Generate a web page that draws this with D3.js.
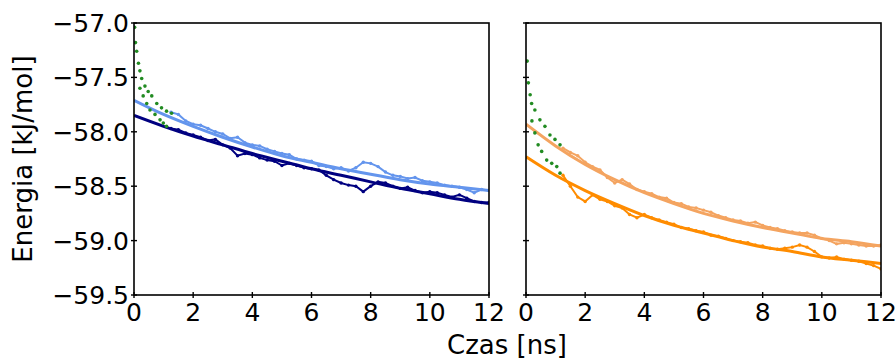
<!DOCTYPE html>
<html><head><meta charset="utf-8">
<script src="https://cdn.jsdelivr.net/npm/d3@7/dist/d3.min.js"></script>
<style>body{margin:0;background:#fff}svg{display:block}text{font-family:"DejaVu Sans",sans-serif;fill:#000}</style>
</head><body><svg id="c" width="896" height="361"></svg>
<script>
const yTicks = [-57.0,-57.5,-58.0,-58.5,-59.0,-59.5];
const xTicks = [0,2,4,6,8,10,12];
const fitT = [0,1,2,3,4,5,6,7,8,9,10,11,12];
const fitLightBlue = [-57.71,-57.84,-57.95,-58.05,-58.14,-58.22,-58.28,-58.34,-58.39,-58.44,-58.48,-58.51,-58.54];
const fitNavy = [-57.85,-57.95,-58.04,-58.12,-58.20,-58.27,-58.34,-58.40,-58.46,-58.52,-58.57,-58.62,-58.66];
const fitSandy = [-57.93,-58.13,-58.30,-58.44,-58.56,-58.66,-58.75,-58.82,-58.88,-58.93,-58.98,-59.01,-59.05];
const fitOrange = [-58.23,-58.40,-58.54,-58.66,-58.77,-58.86,-58.93,-59.00,-59.06,-59.10,-59.15,-59.18,-59.21];
const dataT = [1.25,1.5,1.75,2.0,2.25,2.5,2.75,3.0,3.25,3.5,3.75,4.0,4.25,4.5,4.75,5.0,5.25,5.5,5.75,6.0,6.25,6.5,6.75,7.0,7.25,7.5,7.75,8.0,8.25,8.5,8.75,9.0,9.25,9.5,9.75,10.0,10.25,10.5,10.75,11.0,11.25,11.5,11.75,12.0];
const dataLightBlue = [-57.82,-57.84,-57.90,-57.93,-57.94,-57.97,-58.00,-58.02,-58.06,-58.05,-58.10,-58.12,-58.13,-58.16,-58.18,-58.20,-58.21,-58.25,-58.26,-58.27,-58.31,-58.32,-58.34,-58.33,-58.36,-58.33,-58.28,-58.29,-58.32,-58.37,-58.40,-58.41,-58.43,-58.42,-58.45,-58.46,-58.47,-58.49,-58.50,-58.51,-58.53,-58.56,-58.53,-58.54];
const dataNavy = [-57.97,-57.98,-58.01,-58.03,-58.05,-58.08,-58.07,-58.12,-58.15,-58.22,-58.20,-58.21,-58.24,-58.26,-58.27,-58.31,-58.29,-58.31,-58.33,-58.34,-58.35,-58.40,-58.44,-58.47,-58.49,-58.50,-58.55,-58.50,-58.46,-58.47,-58.50,-58.52,-58.51,-58.54,-58.56,-58.55,-58.56,-58.58,-58.60,-58.58,-58.61,-58.64,-58.65,-58.65];
const dataSandy = [-58.15,-58.19,-58.22,-58.28,-58.32,-58.35,-58.42,-58.47,-58.44,-58.48,-58.53,-58.55,-58.57,-58.60,-58.61,-58.65,-58.66,-58.69,-58.70,-58.72,-58.74,-58.77,-58.79,-58.81,-58.82,-58.84,-58.83,-58.86,-58.88,-58.89,-58.91,-58.92,-58.93,-58.93,-58.95,-58.98,-59.00,-59.03,-59.02,-59.03,-59.04,-59.05,-59.05,-59.04];
const dataOrange = [-58.40,-58.50,-58.60,-58.64,-58.58,-58.62,-58.64,-58.68,-58.70,-58.76,-58.79,-58.76,-58.79,-58.81,-58.83,-58.85,-58.88,-58.89,-58.91,-58.92,-58.95,-58.96,-58.98,-59.00,-59.01,-59.02,-59.04,-59.05,-59.07,-59.08,-59.07,-59.06,-59.04,-59.06,-59.10,-59.15,-59.16,-59.15,-59.17,-59.18,-59.19,-59.21,-59.23,-59.26];
const greenLeftT = [0.02,0.05,0.09,0.15,0.2,0.26,0.37,0.48,0.6,0.77,0.93,1.1,1.27,0.2,0.31,0.43,0.54,0.71,0.88,0.99,1.1];
const greenLeftV = [-57.04,-57.18,-57.26,-57.37,-57.44,-57.51,-57.58,-57.63,-57.67,-57.74,-57.78,-57.81,-57.83,-57.60,-57.67,-57.74,-57.80,-57.84,-57.89,-57.92,-57.95];
const greenRightT = [0.04,0.08,0.19,0.3,0.47,0.64,0.81,0.98,1.15,0.14,0.2,0.3,0.41,0.53,0.7,0.87,1.04,1.15];
const greenRightV = [-57.35,-57.55,-57.74,-57.80,-57.89,-57.95,-58.03,-58.07,-58.12,-57.66,-57.90,-58.01,-58.12,-58.18,-58.26,-58.29,-58.32,-58.38];

const svg = d3.select('#c');
const plotTop = 23, plotBottom = 295;
const y = d3.scaleLinear().domain([-59.5,-57.0]).range([plotBottom, plotTop]);
const panels = [
  {x0:134, x1:489, labels:true, series:[
    {d:dataLightBlue, f:fitLightBlue, c:'#6495ED'},
    {d:dataNavy, f:fitNavy, c:'#000080'}], gT:greenLeftT, gV:greenLeftV},
  {x0:526, x1:881, labels:false, series:[
    {d:dataSandy, f:fitSandy, c:'#F4A460'},
    {d:dataOrange, f:fitOrange, c:'#FF8C00'}], gT:greenRightT, gV:greenRightV}
];
const fs = 25, fsLab = 26;
panels.forEach(p => {
  const x = d3.scaleLinear().domain([0,12]).range([p.x0, p.x1]);
  const g = svg.append('g');
  g.append('defs').append('clipPath').attr('id','cp'+p.x0).append('rect')
    .attr('x',p.x0).attr('y',plotTop).attr('width',p.x1-p.x0).attr('height',plotBottom-plotTop);
  const pg = g.append('g').attr('clip-path','url(#cp'+p.x0+')');
  p.series.forEach(s => {
    const pts = dataT.map((t,i)=>[t,s.d[i]]);
    pg.append('path').attr('d', d3.line().x(d=>x(d[0])).y(d=>y(d[1]))(pts))
      .attr('fill','none').attr('stroke',s.c).attr('stroke-width',2);
    pg.selectAll(null).data(pts).enter().append('circle')
      .attr('cx',d=>x(d[0])).attr('cy',d=>y(d[1])).attr('r',1.7).attr('fill',s.c);
    const fp = fitT.map((t,i)=>[t,s.f[i]]);
    pg.append('path').attr('d', d3.line().curve(d3.curveMonotoneX).x(d=>x(d[0])).y(d=>y(d[1]))(fp))
      .attr('fill','none').attr('stroke',s.c).attr('stroke-width',3);
  });
  pg.selectAll(null).data(p.gT.map((t,i)=>[t,p.gV[i]])).enter().append('circle')
    .attr('cx',d=>x(d[0])).attr('cy',d=>y(d[1])).attr('r',1.8).attr('fill','#228B22');
  g.append('rect').attr('x',p.x0).attr('y',plotTop).attr('width',p.x1-p.x0).attr('height',plotBottom-plotTop)
    .attr('fill','none').attr('stroke','#000').attr('stroke-width',1.6);
  xTicks.forEach(t => {
    g.append('line').attr('x1',x(t)).attr('x2',x(t)).attr('y1',plotBottom-3).attr('y2',plotBottom+3)
      .attr('stroke','#000').attr('stroke-width',1.4);
    g.append('text').attr('x',x(t)).attr('y',plotBottom+26).attr('text-anchor','middle')
      .attr('font-size',fs).text(d3.format('d')(t));
  });
  yTicks.forEach(v => {
    g.append('line').attr('x1',p.x0-3).attr('x2',p.x0+3).attr('y1',y(v)).attr('y2',y(v))
      .attr('stroke','#000').attr('stroke-width',1.4);
    if (p.labels) g.append('text').attr('x',p.x0-5).attr('y',y(v)).attr('dy','0.36em')
      .attr('text-anchor','end').attr('font-size',fs).text(d3.format('.1f')(v).replace('-','\u2212'));
  });
});
svg.append('text').attr('x',507).attr('y',354).attr('text-anchor','middle').attr('font-size',fsLab).text('Czas [ns]');
svg.append('text').attr('transform','translate(32,159) rotate(-90)').attr('text-anchor','middle')
  .attr('font-size',fsLab).text('Energia [kJ/mol]');
</script></body></html>
